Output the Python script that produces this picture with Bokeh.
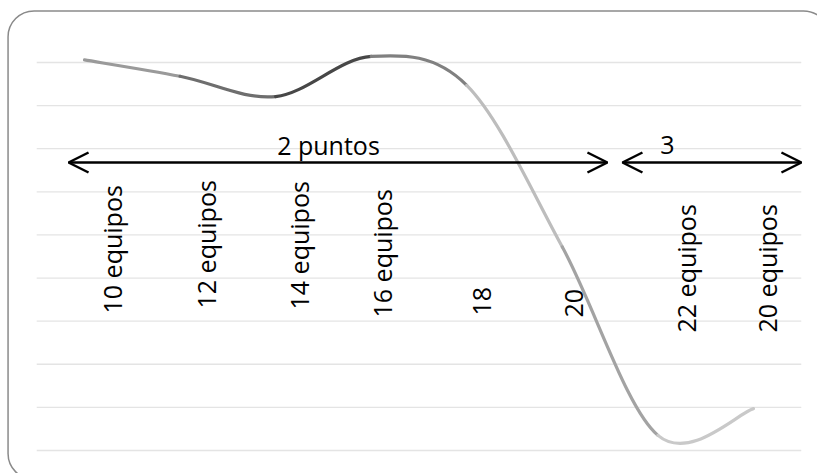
import numpy as np
from bokeh.plotting import figure
from bokeh.models import Range1d, ColumnDataSource, Arrow, OpenHead, BoxAnnotation
from bokeh.core.properties import value
from bokeh.embed import file_html
from bokeh.resources import INLINE

# ---------------- data ----------------
categories = ["10 equipos", "12 equipos", "14 equipos", "16 equipos",
              "18", "20", "22 equipos", "20 equipos"]
values = [9.06, 8.68, 8.21, 9.14, 8.47, 4.72, 0.35, 0.97]
segment_colors = ["#9a9a9a", "#6e6e6e", "#474747", "#808080",
                  "#bdbdbd", "#a3a3a3", "#c9c9c9"]
grid_values = [0, 1, 2, 3, 4, 5, 6, 7, 8, 9]
span_labels = ["2 puntos", "3"]

# ---------------- layout (annotation positions, data units) ----------------
label_x = [0.2825, 1.2734, 2.2497, 3.1181, 4.1645, 5.1271, 6.2990, 7.1466]
label_y = [3.178, 3.294, 3.271, 3.085, 3.132, 3.085, 2.737, 2.737]
span_from = [-0.167, 5.629]
span_to = [5.472, 7.502]
span_y = 6.68
span_text_x = [2.553, 6.10]
span_text_y = 7.08

FONT = value("Open Sans")
FONT_SIZE = "25px"

p = figure(width=817, height=473, output_backend="svg", toolbar_location=None,
           x_range=Range1d(-0.879, 7.670), y_range=Range1d(-0.534, 10.438),
           x_axis_location=None, y_axis_location=None, min_border=0,
           background_fill_color="white", border_fill_color="white",
           outline_line_color=None)
p.grid.visible = False

# rounded chart border
p.add_layout(BoxAnnotation(left=-0.800, right=7.795, top=10.195, bottom=-0.673,
                           fill_color=None, fill_alpha=0,
                           line_color="#8a8a8a", line_alpha=1.0, line_width=1.5,
                           border_radius=26, level="underlay"))

# horizontal gridlines across the category range
n = len(categories)
p.segment(x0=[-0.5] * len(grid_values), x1=[n - 0.5] * len(grid_values),
          y0=grid_values, y1=grid_values, line_color="#e4e4e4", line_width=1.3)

# smoothed line (Catmull-Rom bezier segments through the data points)
xs = np.arange(n, dtype=float)
ys = np.array(values, dtype=float)
xp = np.concatenate([[xs[0]], xs, [xs[-1]]])
yp = np.concatenate([[ys[0]], ys, [ys[-1]]])
seg = dict(x0=[], y0=[], x1=[], y1=[], cx0=[], cy0=[], cx1=[], cy1=[], color=[])
for i in range(n - 1):
    a, b, c, d = i, i + 1, i + 2, i + 3
    seg["x0"].append(xp[b]); seg["y0"].append(yp[b])
    seg["x1"].append(xp[c]); seg["y1"].append(yp[c])
    seg["cx0"].append(xp[b] + (xp[c] - xp[a]) / 6.0)
    seg["cy0"].append(yp[b] + (yp[c] - yp[a]) / 6.0)
    seg["cx1"].append(xp[c] - (xp[d] - xp[b]) / 6.0)
    seg["cy1"].append(yp[c] - (yp[d] - yp[b]) / 6.0)
    seg["color"].append(segment_colors[i])
p.bezier(x0="x0", y0="y0", x1="x1", y1="y1", cx0="cx0", cy0="cy0",
         cx1="cx1", cy1="cy1", line_color="color", line_width=3.2,
         line_cap="round", source=ColumnDataSource(seg))

# rotated category labels
p.text(x=label_x, y=label_y, text=categories, angle=np.pi / 2,
       text_align="left", text_baseline="alphabetic",
       text_font=FONT, text_font_size=FONT_SIZE, text_color="black")

# double arrows with their labels
for x0, x1 in zip(span_from, span_to):
    p.add_layout(Arrow(start=OpenHead(size=20, line_width=2.5, line_color="black"),
                       end=OpenHead(size=20, line_width=2.5, line_color="black"),
                       x_start=x0, y_start=span_y, x_end=x1, y_end=span_y,
                       line_color="black", line_width=2.5))
p.text(x=span_text_x, y=[span_text_y] * len(span_labels), text=span_labels,
       text_align="center", text_baseline="alphabetic",
       text_font=FONT, text_font_size=FONT_SIZE, text_color="black")

open("out.html", "w").write(file_html(p, INLINE))
